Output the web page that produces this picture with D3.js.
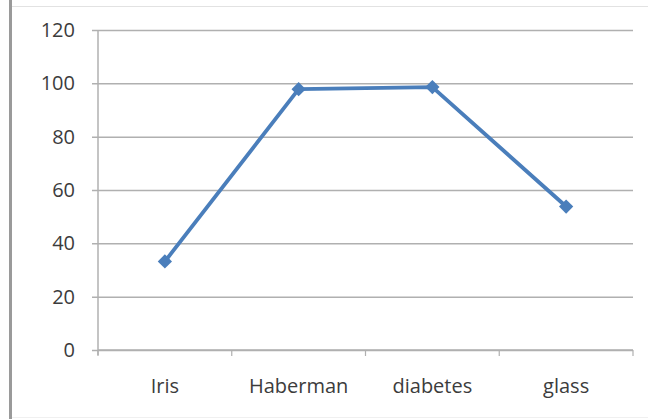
<!DOCTYPE html>
<html>
<head>
<meta charset="utf-8">
<script src="https://cdn.jsdelivr.net/npm/d3@7"></script>
<style>
  html, body { margin: 0; padding: 0; background: #fff; }
  svg { display: block; }
  text { font-family: "Open Sans", "Liberation Sans", sans-serif; fill: #3c3c3c; }
</style>
</head>
<body>
<svg id="chart" width="648" height="419"></svg>
<script>
// Dataset names along the x axis
const categories = ["Iris", "Haberman", "diabetes", "glass"];
// Measured value per dataset
const values = [33.2, 97.8, 98.6, 53.8];
// Y-axis tick values
const yTicks = [0, 20, 40, 60, 80, 100, 120];

const svg = d3.select("#chart");
const W = 648, H = 419;
const plot = { left: 98, right: 633, top: 30, bottom: 350 };

// Frame: heavy left rule, light top and bottom rules
svg.append("rect").attr("x", 9).attr("y", 0).attr("width", 3).attr("height", H).attr("fill", "#9a9a9a");
svg.append("line").attr("x1", 12).attr("x2", W).attr("y1", 6.5).attr("y2", 6.5)
  .attr("stroke", "#e2e2e2").attr("stroke-width", 1);
svg.append("line").attr("x1", 12).attr("x2", W).attr("y1", 417.5).attr("y2", 417.5)
  .attr("stroke", "#f0f0f0").attr("stroke-width", 1);

const x = d3.scaleBand().domain(categories).range([plot.left, plot.right]);
const y = d3.scaleLinear().domain([0, 120]).range([plot.bottom, plot.top]);

// Horizontal gridlines with small tick stubs to the left of the axis
const yAxis = d3.axisLeft(y).tickValues(yTicks).tickSize(-(plot.right - plot.left + 6)).tickPadding(18)
  .tickFormat(d3.format("d"));
const gy = svg.append("g").attr("transform", `translate(${plot.left - 6},0)`).call(yAxis);
gy.select(".domain").remove();
gy.selectAll(".tick line").attr("stroke", "#b0b0b0").attr("stroke-width", 1.5)
  .attr("x1", 0).attr("x2", plot.right - plot.left + 6);
gy.selectAll(".tick text").attr("font-size", 20).attr("fill", "#3c3c3c").attr("x", -17);

// Vertical y axis line
svg.append("line").attr("x1", plot.left).attr("x2", plot.left)
  .attr("y1", plot.top).attr("y2", plot.bottom + 5)
  .attr("stroke", "#b0b0b0").attr("stroke-width", 1.5);

// X axis with category boundary ticks
const xEdges = categories.map(c => x(c)).concat([plot.right]);
svg.append("line").attr("x1", plot.left).attr("x2", plot.right)
  .attr("y1", plot.bottom).attr("y2", plot.bottom)
  .attr("stroke", "#b0b0b0").attr("stroke-width", 1.5);
svg.selectAll(".xtick").data(xEdges).enter().append("line")
  .attr("x1", d => d).attr("x2", d => d)
  .attr("y1", plot.bottom).attr("y2", plot.bottom + 6)
  .attr("stroke", "#b0b0b0").attr("stroke-width", 1.2);
svg.selectAll(".xlabel").data(categories).enter().append("text")
  .attr("x", d => x(d) + x.bandwidth() / 2)
  .attr("y", 393)
  .attr("text-anchor", "middle")
  .attr("font-size", 20)
  .text(d => d);

// Data line
const pts = categories.map((c, i) => [x(c) + x.bandwidth() / 2, y(values[i])]);
svg.append("path")
  .attr("d", d3.line()(pts))
  .attr("fill", "none")
  .attr("stroke", "#4a7ebb")
  .attr("stroke-width", 3.8)
  .attr("stroke-linejoin", "round");

// Diamond markers
svg.selectAll(".marker").data(pts).enter().append("path")
  .attr("d", d3.symbol().type(d3.symbolDiamond2).size(130))
  .attr("transform", d => `translate(${d[0]},${d[1]})`)
  .attr("fill", "#4a7ebb");
</script>
</body>
</html>
